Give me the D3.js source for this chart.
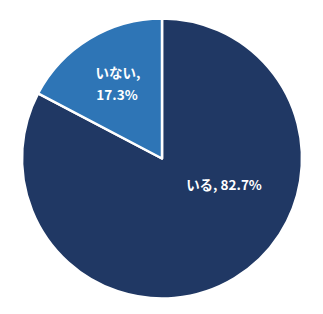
<!DOCTYPE html>
<html>
<head>
<meta charset="utf-8">
<script src="https://cdn.jsdelivr.net/npm/d3@7"></script>
<style>
  body { margin: 0; background: #fff; }
</style>
</head>
<body>
<div id="chart"></div>
<script>
// data
var labels = ["いる", "いない"];
var values = [82.7, 17.3];
var colors = ["#203864", "#2E75B6"];

var width = 323, height = 314;
var cx = 162, cy = 158.5, radius = 140;

var svg = d3.select("#chart")
  .append("svg")
    .attr("width", width)
    .attr("height", height)
  .append("g")
    .attr("transform", "translate(" + cx + "," + cy + ")");

var data = labels.map(function(d, i) { return {label: d, value: values[i]}; });

var pie = d3.pie()
  .sort(null)
  .value(function(d) { return d.value; });

var arc = d3.arc()
  .innerRadius(0)
  .outerRadius(radius);

var arcs = pie(data);

svg.selectAll("path")
  .data(arcs)
  .enter()
  .append("path")
    .attr("d", arc)
    .attr("fill", function(d, i) { return colors[i]; })
    .attr("stroke", "#fff")
    .attr("stroke-width", 2.5)
    .attr("stroke-linejoin", "round");

// labels, placed where the original chart put them
var txt = svg.selectAll("text.lbl")
  .data(arcs)
  .enter()
  .append("text")
    .attr("class", "lbl")
    .attr("text-anchor", "middle")
    .attr("fill", "#fff")
    .attr("font-family", "'Noto Sans CJK JP', sans-serif")
    .attr("font-weight", "bold")
    .attr("font-size", "13.5px");

txt.each(function(d, i) {
  var t = d3.select(this);
  if (i === 0) {
    t.append("tspan")
      .attr("x", 224 - cx)
      .attr("y", 190 - cy)
      .text(d.data.label + ", " + d.data.value.toFixed(1) + "%");
  } else {
    t.append("tspan")
      .attr("x", 118 - cx)
      .attr("y", 78 - cy)
      .text(d.data.label + ",");
    t.append("tspan")
      .attr("x", 117 - cx)
      .attr("y", 100 - cy)
      .text(d.data.value.toFixed(1) + "%");
  }
});
</script>
</body>
</html>
